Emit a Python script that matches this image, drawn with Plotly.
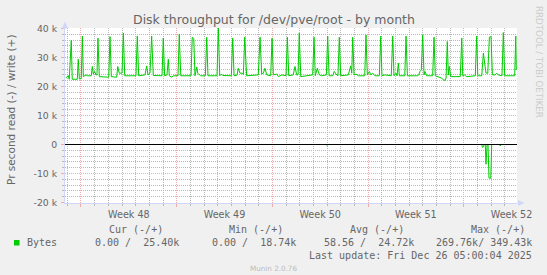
import plotly.graph_objects as go

# ---- data (days since Mon 24 Nov 2025 00:00, bytes per second) ----
days_w = [-1.11, -0.93, -0.86, -0.71, -0.64, -0.27, -0.20, -0.12, 0.02, 0.10, 0.17, 0.37, 0.46,
          0.75, 0.83, 0.90, 1.00, 1.10, 1.17, 1.24, 1.34, 2.03, 2.12, 2.22, 2.61, 2.69, 2.80,
          3.00, 3.10, 3.20, 4.02, 4.12, 4.22, 4.68, 4.81, 4.90, 5.05, 5.17, 5.29, 5.93, 6.02,
          6.12, 6.29, 6.39, 6.46, 6.64, 6.75, 7.10, 7.19, 7.30, 8.05, 8.14, 8.25, 8.34, 8.47,
          8.54, 8.66, 8.76, 9.10, 9.20, 9.29, 9.95, 10.05, 10.15, 10.27, 10.37, 11.00, 11.10,
          11.20, 11.41, 11.51, 11.63, 11.78, 11.88, 11.98, 12.12, 12.97, 13.10, 13.22, 13.34,
          13.46, 13.59, 13.88, 13.98, 14.07, 14.32, 14.44, 14.69, 15.00, 15.10, 15.20, 15.53,
          15.66, 15.78, 15.88, 15.97, 16.08, 16.63, 16.81, 16.95, 17.05, 17.14, 17.29, 17.44,
          17.61, 17.95, 18.05, 18.15, 18.42, 18.53, 18.71, 18.80, 18.90, 19.00, 19.56, 19.73,
          19.81, 19.88, 19.98, 20.12, 20.29, 20.76, 20.85, 20.95, 21.10, 21.20, 21.34, 21.51,
          21.83, 21.93, 22.02, 22.24, 22.70, 22.81, 22.90, 23.05, 23.12, 23.22, 23.29, 23.69,
          23.78, 23.88, 24.61, 24.71, 24.80, 24.90, 25.00, 25.10, 25.17, 25.29, 25.73, 25.83,
          25.92, 26.14, 26.27, 26.39, 26.51, 26.63, 26.71, 26.80, 26.88, 26.95, 27.05, 27.75,
          27.86, 27.93, 28.05, 28.22, 28.85, 28.95, 29.03, 29.32, 29.44, 29.56, 29.63, 29.76,
          29.88, 30.00, 30.10, 30.29, 30.42, 30.53, 30.80, 30.90, 31.00, 31.73, 31.81, 31.85]
write_bps = [22900, 23800, 22500, 35900, 22500, 22500, 29400, 22600, 22700, 37400, 23400, 24000, 23700,
             23700, 26900, 24300, 25200, 24000, 24000, 36700, 23400, 23200, 37200, 23400, 23200, 26900, 24600,
             24600, 38400, 23700, 23700, 37400, 23700, 24000, 27100, 24000, 24600, 37400, 23800, 23700, 36700,
             23700, 24000, 29400, 23700, 23200, 23700, 23700, 38000, 23700, 23700, 37000, 36600, 23700, 26700,
             24600, 24000, 23700, 23700, 37000, 23700, 23700, 40200, 23700, 24300, 23800, 23700, 36700,
             23700, 23900, 26300, 24600, 24600, 24200, 37000, 23700, 24000, 37000, 24300, 24600,
             26300, 24000, 23700, 36700, 24000, 24300, 23400, 24000, 23700, 37000, 23700, 24000,
             26900, 24000, 24000, 38400, 23400, 23700, 24000, 24000, 37000, 23700, 26300, 24000,
             23700, 24000, 37400, 23700, 23700, 25200, 24000, 23700, 37000, 23700, 24000, 27100,
             24600, 37000, 24000, 24300, 23700, 23700, 37800, 24000, 25200, 24000, 24600, 23700,
             23700, 37400, 23700, 24000, 23700, 37400, 23700, 24600, 23700, 28000, 23700, 23700,
             37400, 23700, 23700, 24000, 25200, 25700, 37800, 24000, 25200, 23700, 23700, 37000,
             23700, 23400, 23200, 22900, 22300, 22100, 22900, 35500, 24000, 26900, 23400, 23400,
             36700, 23700, 24000, 23400, 23700, 37400, 23700, 23700, 31500, 25700, 24600, 24600,
             37000, 37200, 24000, 24000, 24600, 24000, 23700, 38600, 23700, 23700, 37400, 25700]

days_r = [-1.11, 17.95, 18.01, 18.08, 29.32, 29.37, 29.44, 29.51, 29.58, 29.63, 29.71, 29.78,
          29.85, 29.98, 30.05, 30.61, 30.67, 30.73, 31.85]
read_bps = [0, 0, -350, 0, 0, -1000, -800, 0, 0, -6800, 0, 0,
            -11600, -11600, 0, 0, -500, 0, 0]

week_pos = [3.5, 10.5, 17.5, 24.5, 31.5]
week_labels = ["Week 48", "Week 49", "Week 50", "Week 51", "Week 52"]
y_ticks = [-20000, -10000, 0, 10000, 20000, 30000, 40000]
y_labels = ["-20 k", "-10 k", "0", "10 k", "20 k", "30 k", "40 k"]

title = "Disk throughput for /dev/pve/root - by month"
ytitle = "Pr second read (-) / write (+)"
headers = ["Cur (-/+)", "Min (-/+)", "Avg (-/+)", "Max (-/+)"]
values = ["0.00 /  25.40k", "0.00 /  18.74k", "58.56 /  24.72k", "269.76k/ 349.43k"]
last_update = "Last update: Fri Dec 26 05:00:04 2025"

# ---- layout geometry ----
W, H = 547, 275
L, R, T, B = 65, 30, 28, 72
PW, PH = W - L - R, H - T - B
GREEN = "#00cc00"
FONT = "#666666"
AXIS = "#cfd6f8"
GRID = "#b8b8b8"
MGRID = "#efabab"
SANS = "DejaVu Sans"
MONO = "DejaVu Sans Mono"

# 60k spread over 174 px; half a pixel of padding at each end so rules land on pixel centres
HALF = 0.5 * 60000 / (PH - 1)
yr = [-20000 - HALF, 40000 + HALF]


def px(x):
    return (x - L) / PW


def py(y):
    return (T + PH - y) / PH


def nb(s):
    return s.replace(" ", "\u00a0")


fig = go.Figure()
fig.add_trace(go.Scatter(x=days_r, y=read_bps, mode="lines", xaxis="x2",
                         line=dict(color=GREEN, width=1), hoverinfo="skip"))
fig.add_trace(go.Scatter(x=days_w, y=write_bps, mode="lines",
                         line=dict(color=GREEN, width=1), hoverinfo="skip"))

xr = [-1.17, 31.90]
fig.update_layout(
    width=W, height=H,
    margin=dict(l=L, r=R, t=T, b=B, pad=0),
    paper_bgcolor="#f0f0f0", plot_bgcolor="#ffffff",
    showlegend=False,
    xaxis=dict(range=xr, tickmode="linear", tick0=0, dtick=7, showticklabels=False,
               showgrid=True, gridcolor=MGRID, griddash="1px,1px", gridwidth=1,
               ticks="outside", ticklen=3, tickcolor=MGRID,
               minor=dict(tick0=0, dtick=1, showgrid=True, gridcolor=GRID, griddash="1px,1px",
                          ticks="outside", ticklen=2, tickcolor=GRID),
               showline=True, linecolor=AXIS, linewidth=1, zeroline=False, fixedrange=True),
    xaxis2=dict(range=xr, overlaying="x", anchor="y", side="bottom", matches="x",
                tickmode="array", tickvals=week_pos, ticktext=week_labels,
                showgrid=False, ticks="", zeroline=False, showline=False,
                tickfont=dict(family=SANS, size=9.6, color=FONT), ticklabelstandoff=4),
    yaxis=dict(range=yr, tickmode="array", tickvals=y_ticks, ticktext=y_labels,
               showgrid=True, gridcolor=MGRID, griddash="1px,1px", gridwidth=1,
               ticks="outside", ticklen=3, tickcolor=MGRID,
               minor=dict(tick0=0, dtick=2000, showgrid=True, gridcolor=GRID, griddash="1px,1px",
                          ticks="outside", ticklen=2, tickcolor=GRID),
               tickfont=dict(family=SANS, size=9.3, color=FONT), ticklabelstandoff=2,
               showline=True, linecolor=AXIS, linewidth=1, zeroline=False, fixedrange=True),
)

# zero rule
fig.add_shape(type="line", xref="paper", yref="y", x0=0, x1=1, y0=0, y1=0,
              line=dict(color="#000000", width=1), layer="above")

# axis arrows
fig.add_shape(type="path", xref="paper", yref="paper",
              path=f"M {px(65)} {py(21.5)} L {px(62)} {py(28.5)} L {px(68)} {py(28.5)} Z",
              fillcolor=AXIS, line=dict(width=0))
fig.add_shape(type="path", xref="paper", yref="paper",
              path=f"M {px(524.5)} {py(203)} L {px(518)} {py(200)} L {px(518)} {py(206)} Z",
              fillcolor=AXIS, line=dict(width=0))

# legend swatch
fig.add_shape(type="rect", xref="paper", yref="paper",
              x0=px(14), x1=px(19.5), y0=py(245.5), y1=py(240),
              fillcolor=GREEN, line=dict(width=0))


def ann(text, x, y, xanchor="center", size=10, color=FONT, family=MONO, angle=0):
    fig.add_annotation(text=text, x=px(x), y=py(y), xref="paper", yref="paper",
                       xanchor=xanchor, yanchor="middle", showarrow=False,
                       textangle=angle, borderpad=0,
                       font=dict(family=family, size=size, color=color))


ann(title, 273.5, 20, size=12.5, family=SANS)
ann(ytitle, 10.5, 109.5, size=10.5, family=SANS, angle=-90)
ann("RRDTOOL / TOBI OETIKER", 539, 62, size=8.7, family=SANS, color="#cccccc", angle=90)

ann("Bytes", 26.2, 242.8, xanchor="left")
for h, xr_ in zip(headers, [164, 284.4, 405.4, 526.1]):
    ann(nb(h), xr_, 229.9, xanchor="right")
for v, xr_ in zip(values, [179.7, 297.3, 415.2, 533.1]):
    ann(nb(v), xr_, 242.8, xanchor="right")
ann(nb(last_update), 533.1, 255, xanchor="right")
ann("Munin 2.0.76", 273, 268.3, size=7.2, family=SANS, color="#bbbbbb")

fig.write_html("out.html")
